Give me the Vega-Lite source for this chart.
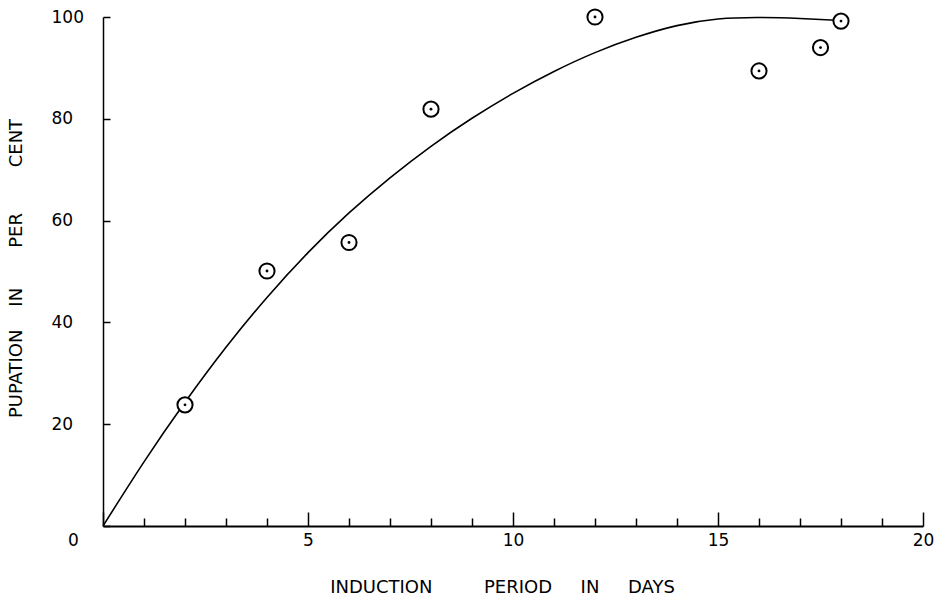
{
  "$schema": "https://vega.github.io/schema/vega-lite/v6.json",
  "width": 820,
  "height": 509,
  "autosize": {"type": "none"},
  "padding": {"left": 103, "top": 17, "right": 16, "bottom": 70},
  "background": "white",
  "config": {
    "view": {"stroke": null},
    "axis": {
      "grid": false,
      "domainColor": "black",
      "tickColor": "black",
      "labelColor": "black",
      "titleColor": "black",
      "labelFont": "DejaVu Sans",
      "titleFont": "DejaVu Sans",
      "titleFontWeight": "normal",
      "labelFontSize": 17,
      "titleFontSize": 18
    }
  },
  "datasets": {
    "fitted": [
      {"day": 0, "pct": 0},
      {"day": 1, "pct": 12.6},
      {"day": 2, "pct": 24.3},
      {"day": 3, "pct": 35.1},
      {"day": 4, "pct": 44.9},
      {"day": 5, "pct": 53.7},
      {"day": 6, "pct": 61.5},
      {"day": 7, "pct": 68.4},
      {"day": 8, "pct": 74.6},
      {"day": 9, "pct": 80.1},
      {"day": 10, "pct": 85.0},
      {"day": 11, "pct": 89.3},
      {"day": 12, "pct": 93.0},
      {"day": 13, "pct": 96.0},
      {"day": 14, "pct": 98.3},
      {"day": 15, "pct": 99.6},
      {"day": 16, "pct": 99.9},
      {"day": 17, "pct": 99.7},
      {"day": 18, "pct": 99.3}
    ],
    "observed": [
      {"day": 2, "pct": 23.8},
      {"day": 4, "pct": 50.1},
      {"day": 6, "pct": 55.7},
      {"day": 8, "pct": 81.9},
      {"day": 12, "pct": 100},
      {"day": 16, "pct": 89.4},
      {"day": 17.5, "pct": 94.0},
      {"day": 18, "pct": 99.2}
    ]
  },
  "layer": [
    {
      "data": {"name": "fitted"},
      "mark": {"type": "line", "interpolate": "natural", "color": "black", "strokeWidth": 1.6},
      "encoding": {
        "x": {
          "field": "day",
          "type": "quantitative",
          "scale": {"domain": [0, 20], "nice": false},
          "axis": {
            "values": [0, 1, 2, 3, 4, 5, 6, 7, 8, 9, 10, 11, 12, 13, 14, 15, 16, 17, 18, 19, 20],
            "labelExpr": "datum.value % 5 === 0 ? datum.label : ''",
            "labelOffset": {"condition": {"test": "datum.value === 0", "value": -30}, "value": 0},
            "tickSize": {"condition": {"test": "datum.value % 5 === 0", "value": -14}, "value": -8},
            "tickWidth": 1.5,
            "domainWidth": 2,
            "labelPadding": 20,
            "labelFlush": false,
            "labelOverlap": false,
            "title": "INDUCTION\u00a0\u00a0\u00a0\u00a0\u00a0\u00a0\u00a0\u00a0\u00a0PERIOD\u00a0\u00a0\u00a0\u00a0\u00a0IN\u00a0\u00a0\u00a0\u00a0\u00a0DAYS",
            "titleX": 399,
            "titleY": 66,
            "titleAnchor": "start",
            "titleAlign": "center",
            "titleBaseline": "alphabetic"
          }
        },
        "y": {
          "field": "pct",
          "type": "quantitative",
          "scale": {"domain": [0, 100], "nice": false},
          "axis": {
            "values": [0, 20, 40, 60, 80, 100],
            "labelExpr": "datum.value === 0 ? '' : datum.label",
            "tickSize": -7,
            "tickWidth": 1.5,
            "domainWidth": 1.5,
            "labelAlign": "left",
            "labelBaseline": "middle",
            "labelPadding": 59,
            "title": "PUPATION\u00a0\u00a0\u00a0\u00a0IN\u00a0\u00a0\u00a0\u00a0\u00a0\u00a0\u00a0PER\u00a0\u00a0\u00a0\u00a0\u00a0\u00a0\u00a0\u00a0CENT",
            "titleAngle": -90,
            "titleX": -87,
            "titleY": 251,
            "titleAlign": "center",
            "titleBaseline": "middle"
          }
        }
      }
    },
    {
      "data": {"name": "observed"},
      "mark": {"type": "point", "shape": "circle", "size": 230, "filled": false, "stroke": "black", "strokeWidth": 2, "opacity": 1, "fill": "white", "fillOpacity": 1},
      "encoding": {
        "x": {"field": "day", "type": "quantitative"},
        "y": {"field": "pct", "type": "quantitative"}
      }
    },
    {
      "data": {"name": "observed"},
      "mark": {"type": "point", "shape": "circle", "size": 8, "filled": true, "color": "black", "opacity": 1},
      "encoding": {
        "x": {"field": "day", "type": "quantitative"},
        "y": {"field": "pct", "type": "quantitative"}
      }
    }
  ]
}
